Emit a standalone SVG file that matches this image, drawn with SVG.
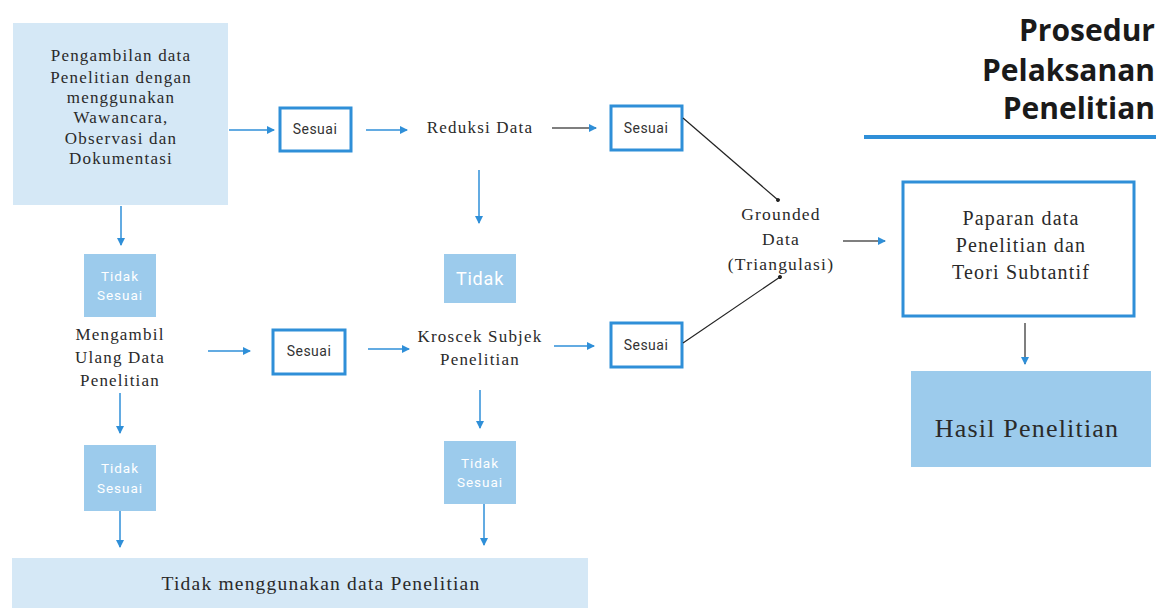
<svg xmlns="http://www.w3.org/2000/svg" width="1158" height="608" viewBox="0 0 1158 608">
<defs>
<marker id="ab" markerWidth="8" markerHeight="8" refX="7" refY="4" orient="auto" markerUnits="userSpaceOnUse"><path d="M0,0 L8,4 L0,8 Z" fill="#2f8fd8"/></marker>
<marker id="dot" markerWidth="6" markerHeight="6" refX="3" refY="3" orient="auto" markerUnits="userSpaceOnUse"><circle cx="3" cy="3" r="2" fill="#222"/></marker>
<style>
.serif{font-family:"Liberation Serif","DejaVu Serif",serif;fill:#2a2a2a;letter-spacing:1.2px;text-anchor:middle}
.sans{font-family:Roboto,"Liberation Sans",sans-serif;text-anchor:middle}
.light{fill:#d5e8f6}
.mid{fill:#9ccbec}
.ok{fill:#fff;stroke:#2f8fd8;stroke-width:3}
.bl{stroke:#2f8fd8;stroke-width:1.5;fill:none}
.gr{stroke:#555;stroke-width:1.5;fill:none}
.bk{stroke:#222;stroke-width:1.2;fill:none}
.ttl{font-family:"Open Sans","Liberation Sans",sans-serif;font-weight:bold;font-size:30px;text-anchor:end;fill:#1a1a1a}
</style>
</defs>
<rect width="1158" height="608" fill="#fff"/>

<g id="title">
<text class="ttl" x="1155" y="41">Prosedur</text>
<text class="ttl" x="1155" y="81">Pelaksanan</text>
<text class="ttl" x="1155" y="119">Penelitian</text>
<rect x="864" y="135" width="292" height="4" fill="#2f8fd8"/>
</g>

<g id="pengambilan">
<rect class="light" x="13" y="23" width="215" height="182"/>
<text class="serif" font-size="17" letter-spacing="1.7"><tspan x="121" y="61">Pengambilan data</tspan><tspan x="121" y="83">Penelitian dengan</tspan><tspan x="121" y="103">menggunakan</tspan><tspan x="121" y="123">Wawancara,</tspan><tspan x="121" y="144">Observasi dan</tspan><tspan x="121" y="164">Dokumentasi</tspan></text>
</g>

<g id="sesuai1"><rect class="ok" x="280" y="108" width="71" height="43"/><text class="sans" x="315" y="134" font-size="14" letter-spacing="0.5" fill="#333">Sesuai</text></g>
<g id="reduksi"><text class="serif" x="480" y="133" font-size="17" letter-spacing="1.8">Reduksi Data</text></g>
<g id="sesuai2"><rect class="ok" x="611" y="106" width="71" height="44"/><text class="sans" x="646" y="133" font-size="14" letter-spacing="0.5" fill="#333">Sesuai</text></g>
<g id="tidak1"><rect class="mid" x="444" y="254" width="72" height="49"/><text class="sans" x="480" y="285" font-size="18" letter-spacing="0.8" fill="#fff">Tidak</text></g>

<g id="tidaksesuai1"><rect class="mid" x="84" y="254" width="72" height="63"/><text class="sans" font-size="13.5" letter-spacing="1" fill="#fff"><tspan x="120" y="281">Tidak</tspan><tspan x="120" y="300">Sesuai</tspan></text></g>
<g id="mengambil"><text class="serif" font-size="17" letter-spacing="1.5"><tspan x="120" y="340">Mengambil</tspan><tspan x="120" y="363">Ulang Data</tspan><tspan x="120" y="386">Penelitian</tspan></text></g>
<g id="sesuai3"><rect class="ok" x="273" y="330" width="72" height="44"/><text class="sans" x="309" y="356" font-size="14" letter-spacing="0.5" fill="#333">Sesuai</text></g>
<g id="kroscek"><text class="serif" font-size="17" letter-spacing="1.5"><tspan x="480" y="342">Kroscek Subjek</tspan><tspan x="480" y="365">Penelitian</tspan></text></g>
<g id="sesuai4"><rect class="ok" x="611" y="323" width="71" height="44"/><text class="sans" x="646" y="350" font-size="14" letter-spacing="0.5" fill="#333">Sesuai</text></g>

<g id="tidaksesuai2"><rect class="mid" x="84" y="445" width="72" height="66"/><text class="sans" font-size="13.5" letter-spacing="1" fill="#fff"><tspan x="120" y="473">Tidak</tspan><tspan x="120" y="493">Sesuai</tspan></text></g>
<g id="tidaksesuai3"><rect class="mid" x="444" y="441" width="72" height="63"/><text class="sans" font-size="13.5" letter-spacing="1" fill="#fff"><tspan x="480" y="468">Tidak</tspan><tspan x="480" y="487">Sesuai</tspan></text></g>

<g id="tidakmenggunakan"><rect class="light" x="12" y="558" width="576" height="50"/><text class="serif" x="321" y="590" font-size="19.5" letter-spacing="1.6">Tidak menggunakan data Penelitian</text></g>

<g id="grounded"><text class="serif" font-size="17.5" letter-spacing="1.5"><tspan x="781" y="220">Grounded</tspan><tspan x="781" y="245">Data</tspan><tspan x="781" y="270">(Triangulasi)</tspan></text></g>
<g id="paparan"><rect class="ok" x="903" y="182" width="231" height="134"/><text class="serif" font-size="20" letter-spacing="2"><tspan x="1021" y="225">Paparan data</tspan><tspan x="1021" y="252">Penelitian dan</tspan><tspan x="1021" y="279">Teori Subtantif</tspan></text></g>
<g id="hasil"><rect class="mid" x="911" y="371" width="240" height="96"/><text class="serif" x="1027" y="437" font-size="26" letter-spacing="1.6" fill="#1a1a1a">Hasil Penelitian</text></g>

<g id="connectors">
<line class="bl" x1="229" y1="130" x2="274" y2="130" marker-end="url(#ab)"/>
<line class="bl" x1="366" y1="130" x2="407" y2="130" marker-end="url(#ab)"/>
<line class="gr" x1="552" y1="128" x2="596" y2="128" marker-end="url(#ab)"/>
<line class="bk" x1="683" y1="118" x2="778" y2="200" marker-end="url(#dot)"/>
<line class="bl" x1="479" y1="170" x2="479" y2="223" marker-end="url(#ab)"/>
<line class="bl" x1="121" y1="206" x2="121" y2="245" marker-end="url(#ab)"/>
<line class="bl" x1="208" y1="351" x2="250" y2="351" marker-end="url(#ab)"/>
<line class="bl" x1="368" y1="349" x2="409" y2="349" marker-end="url(#ab)"/>
<line class="bl" x1="554" y1="346" x2="594" y2="346" marker-end="url(#ab)"/>
<line class="bk" x1="683" y1="343" x2="780" y2="277" marker-end="url(#dot)"/>
<line class="bl" x1="120" y1="393" x2="120" y2="433" marker-end="url(#ab)"/>
<line class="bl" x1="480" y1="390" x2="480" y2="428" marker-end="url(#ab)"/>
<line class="bl" x1="120" y1="511" x2="120" y2="547" marker-end="url(#ab)"/>
<line class="bl" x1="484" y1="504" x2="484" y2="545" marker-end="url(#ab)"/>
<line class="gr" x1="843" y1="241" x2="885" y2="241" marker-end="url(#ab)"/>
<line class="gr" x1="1025" y1="323" x2="1025" y2="364" marker-end="url(#ab)"/>
</g>
</svg>
